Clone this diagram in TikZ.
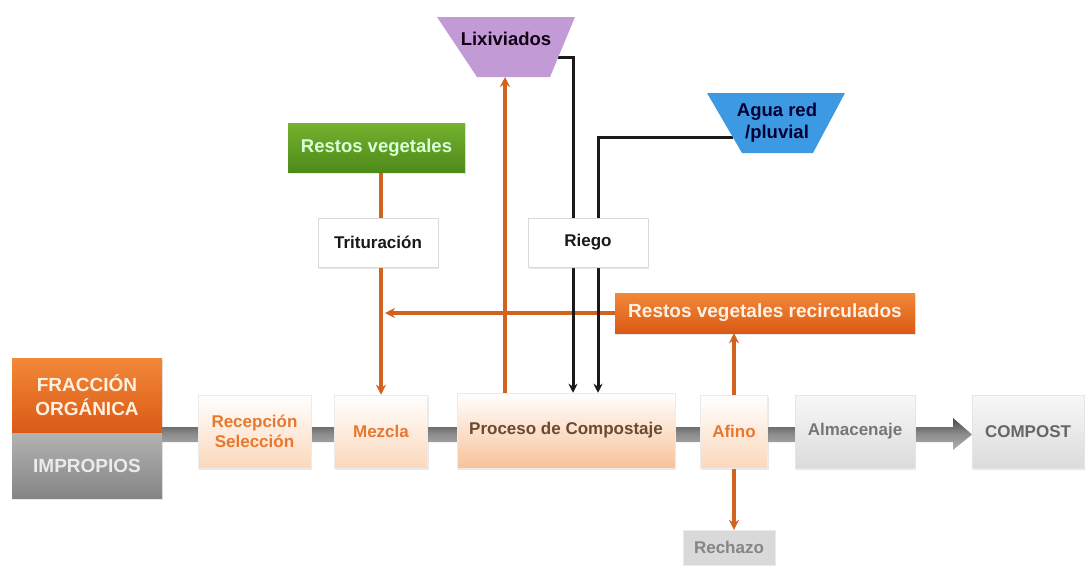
\documentclass[tikz,border=0pt]{standalone}
\usepackage{fontspec}
\setmainfont{Liberation Sans}
\usetikzlibrary{arrows.meta,shadows,backgrounds,calc}
\definecolor{orLine}{HTML}{D2631F}
\definecolor{orTxt}{HTML}{E8782E}
\definecolor{peachB}{HTML}{FBD8BC}
\definecolor{peachP}{HTML}{F8C29A}
\definecolor{procTxt}{HTML}{6B4A2E}
\definecolor{grayT}{HTML}{767676}
\definecolor{greenT}{HTML}{74B22E}
\definecolor{greenB}{HTML}{4E8A1A}
\definecolor{lixC}{HTML}{C29BD6}
\definecolor{aguaC}{HTML}{3D9AE2}
\definecolor{orTop}{HTML}{F2883A}
\definecolor{orBot}{HTML}{DA5A14}
\newcommand\fz[2]{\fontsize{#1}{#2}\selectfont\bfseries}
\begin{document}
\begin{tikzpicture}[x=1pt,y=-1pt,
  every node/.style={inner sep=0pt, align=center},
  shad/.style={drop shadow={shadow xshift=1.2pt, shadow yshift=-1.5pt, opacity=0.18}},
  pale/.style={shad, draw=black!8, line width=0.5pt, top color=white, bottom color=peachB, text=orTxt, font=\fz{17}{20}},
  grayb/.style={shad, draw=black!10, line width=0.5pt, top color=white!97!black, bottom color=black!14, text=grayT, font=\fz{17}{20}},
  whiteb/.style={shad, draw=black!15, line width=0.5pt, fill=white, text=black!90, font=\fz{17}{20}},
  oline/.style={draw=orLine, line width=3.6pt, -{Stealth[length=10pt,width=10pt]}},
  bline/.style={draw=black!90, line width=3pt, -{Stealth[length=9pt,width=9pt]}}
]
\useasboundingbox (0,0) rectangle (1086,565);

% main flow
\node[shad, top color=orTop, bottom color=orBot, text=white!88!orange, font=\fz{19}{24},
      minimum width=150pt, minimum height=75pt] (fo) at (87,395.5) {FRACCIÓN\\ORGÁNICA};
\node[shad, top color=black!30, bottom color=black!48, text=white!92!black, font=\fz{19}{24},
      minimum width=150pt, minimum height=65pt] (imp) at (87,465.5) {IMPROPIOS};
\node[pale, minimum width=113pt, minimum height=73pt] (rec) at (254.5,431.5) {Recepción\\Selección};
\node[pale, minimum width=93pt, minimum height=73pt] (mez) at (381,431.5) {Mezcla};
\node[pale, bottom color=peachP, text=procTxt, minimum width=218pt, minimum height=75pt] (proc) at (566,430.5) {Proceso de Compostaje};
\node[pale, minimum width=67pt, minimum height=73pt] (afino) at (734,431.5) {Afino};
\node[grayb, minimum width=120pt, minimum height=73pt] (alm) at (855,431.5) {Almacenaje};
\node[grayb, text=black!60, minimum width=112pt, minimum height=73pt] (comp) at (1028,431.5) {COMPOST};
\node[draw=black!8, fill=black!15, text=black!48, font=\fz{17}{20}, minimum width=92pt, minimum height=35pt] (rech) at (729,547.5) {Rechazo};

% upper boxes
\node[shad, top color=orTop, bottom color=orBot, text=white!90!orange, font=\fz{19}{22},
      minimum width=300pt, minimum height=40pt] (recirc) at (765,313) {Restos vegetales recirculados};
\node[shad, top color=greenT, bottom color=greenB, text=white!85!green, font=\fz{18.5}{22},
      minimum width=177pt, minimum height=49pt] (rv) at (376.5,147.5) {Restos vegetales};
\node[whiteb, minimum width=120pt, minimum height=49pt] (trit) at (378,242.5) {Trituración};
\node[whiteb, minimum width=120pt, minimum height=49pt] (riego) at (588,242.5) {Riego};

% trapezoids
\fill[lixC] (437,17) -- (575,17) -- (550,77) -- (477,77) -- cycle;
\node[text=black!85!violet, font=\fz{18.5}{22}] (lix) at (506,39) {Lixiviados};
\coordinate (lixB) at (505,77);
\coordinate (lixR) at (558,57);
\fill[aguaC] (707,93) -- (845,93) -- (813,153) -- (742,153) -- cycle;
\node[text=black!80!blue, font=\fz{18.5}{22}] (agua) at (777,123) {Agua red\\/pluvial};
\coordinate (aguaL) at (733,137);

\begin{scope}[on background layer]
  % main grey bar with arrow head
  \path[shade, top color=black!72, bottom color=black!30, middle color=black!45]
    (162,427) -- (953,427) -- (953,418) -- (972,434.5) -- (953,450) -- (953,442) -- (162,442) -- cycle;
  % orange connectors
  \draw[oline] (rv.south -| mez.north) -- (mez.north);
  \draw[oline] (recirc.west) -- ([xshift=4pt]mez.north |- recirc.west);
  \draw[oline] (proc.north -| lixB) -- (lixB);
  \draw[oline] (afino.north) -- (afino.north |- recirc.south);
  \draw[oline] (afino.south) -- (afino.south |- rech.north);
  % black connectors
  \draw[bline] (lixR) -| ([xshift=7pt]proc.north);
  \draw[bline] (aguaL) -| ([xshift=32pt]proc.north);
\end{scope}
\end{tikzpicture}
\end{document}
